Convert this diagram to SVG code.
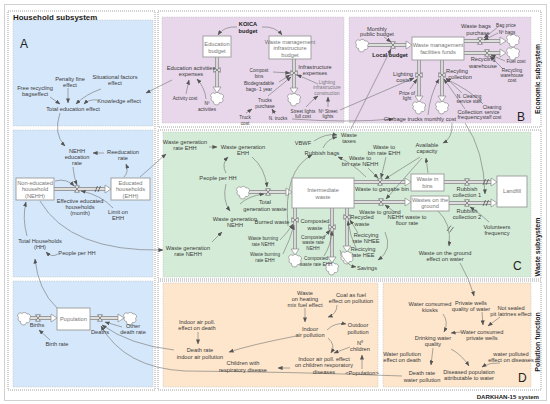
<svg xmlns="http://www.w3.org/2000/svg" width="550" height="404" viewBox="0 0 550 404">
<defs>
<style>
.t{font-family:"Liberation Sans",Arial,sans-serif;font-size:5.7px;fill:#3a3a3a;text-anchor:middle}
.s{font-size:4.7px}
.g{fill:#777}
.bd{font-weight:bold;fill:#222}
.ttl{font-family:"Liberation Sans",Arial,sans-serif;font-weight:bold;fill:#1a1a1a}
.pl{font-family:"Liberation Sans",Arial,sans-serif;font-size:12px;fill:#222}
.c{fill:none;stroke:#727272;stroke-width:0.6;marker-end:url(#ah)}
.po{fill:none;stroke:#9a9a9a;stroke-width:3.8}
.pi{fill:none;stroke:#dedede;stroke-width:1.8}
.ha{fill:#fff;stroke:#8a8a8a;stroke-width:0.7}
.stk{fill:#fff;stroke:#9a9a9a;stroke-width:0.9}
.sub{fill:none;stroke:#8c8c8c;stroke-width:0.8;stroke-dasharray:1 1}
.pan{stroke:#b4b4b4;stroke-width:0.5;stroke-dasharray:1.2 1.2}
.sl{stroke:#444;stroke-width:0.7;fill:none}
</style>
<marker id="ah" markerUnits="userSpaceOnUse" markerWidth="5" markerHeight="4" refX="4.6" refY="2" orient="auto"><path d="M0,0 L5,2 L0,4 z" fill="#555"/></marker>
<polygon id="v" points="-2.4,-3.2 2.4,-3.2 -2.4,3.2 2.4,3.2" fill="#fff" stroke="#444" stroke-width="0.6"/>
<polygon id="vv" points="-3.2,-2.4 -3.2,2.4 3.2,-2.4 3.2,2.4" fill="#fff" stroke="#444" stroke-width="0.6"/>
<polygon id="har" class="ha" points="-6,-4 0,0 -6,4"/>
<polygon id="had" class="ha" points="-4,-6 4,-6 0,0"/>
<path id="cl" d="M-3.5,3.5 A2.5,2.5 0 0 1 -5.5,-0.5 A2.6,2.6 0 0 1 -2,-4.5 A3,3 0 0 1 3,-4 A2.6,2.6 0 0 1 5.5,0.5 A2.6,2.6 0 0 1 2.5,4.5 A2.6,2.6 0 0 1 -3.5,3.5 Z" fill="#fff" stroke="#8a8a8a" stroke-width="0.7"/>
</defs>

<g id="frame">
<rect x="0" y="0" width="550" height="404" fill="#fff"/>
<rect class="sub" x="4.5" y="4.5" width="542" height="396"/>
<rect class="sub" x="8" y="11" width="147" height="379"/>
<rect class="sub" x="158" y="11" width="383" height="116"/>
<rect class="sub" x="158" y="130" width="383" height="149"/>
<rect class="sub" x="158" y="281" width="383" height="109"/>
<rect class="pan" x="13" y="20" width="140" height="106" fill="#d5e7fa"/>
<rect class="pan" x="13" y="130" width="140" height="147" fill="#d5e7fa"/>
<rect class="pan" x="13" y="281" width="140" height="106" fill="#d5e7fa"/>
<rect class="pan" x="162" y="17" width="182" height="106" fill="#e8d7eb"/>
<rect class="pan" x="349" y="17" width="182" height="106" fill="#e8d7eb"/>
<rect class="pan" x="163" y="132" width="368" height="145" fill="#d4ecd7"/>
<rect class="pan" x="163" y="283" width="215" height="104" fill="#fde6cc"/>
<rect class="pan" x="383" y="283" width="148" height="104" fill="#fde6cc"/>
<text class="ttl" x="13" y="19.5" font-size="7.9">Household subsystem</text>
<text class="ttl" font-size="6.8" text-anchor="middle" transform="translate(539.5,79) rotate(-90)">Economic subsystem</text>
<text class="ttl" font-size="7" text-anchor="middle" transform="translate(539.5,247) rotate(-90)">Waste subsystem</text>
<text class="ttl" font-size="7" text-anchor="middle" transform="translate(539.5,342) rotate(-90)">Pollution function</text>
<rect x="474" y="393" width="68" height="7" fill="#fff"/>
<text class="ttl" font-size="6.1" text-anchor="end" x="539" y="398.5">DARKHAN-15 system</text>
<text class="pl" x="20" y="48">A</text>
<text class="pl" x="517" y="121">B</text>
<text class="pl" x="513" y="270">C</text>
<text class="pl" x="518" y="382">D</text>
</g>

<g id="connectors">
<path class="po" d="M54,189 H105 M30,318 H51 M90,318 H118 M217,57 V87 M294,59 V88 M367,45 H406 M464,41 H500 M464,53 H500 M419,60 V96 M442,60 V96 M249,192 H286 M354,182 H405 M354,202 H405 M444,182 H491 M449,203 H491 M295,208 V249 M332,208 V257 M347,208 V246"/>
<path class="pi" d="M54,189 H105 M30,318 H51 M90,318 H118 M217,57 V87 M294,59 V88 M367,45 H406 M464,41 H500 M464,53 H500 M419,60 V96 M442,60 V96 M249,192 H286 M354,182 H405 M354,202 H405 M444,182 H491 M449,203 H491 M295,208 V249 M332,208 V257 M347,208 V246"/>
<use href="#har" x="111" y="189"/><use href="#har" x="57" y="318"/><use href="#har" x="124" y="318"/>
<use href="#had" x="217" y="93"/><use href="#had" x="294" y="94"/>
<use href="#har" x="412" y="45"/><use href="#har" x="506" y="41"/><use href="#har" x="506" y="53"/>
<use href="#had" x="419" y="102"/><use href="#had" x="442" y="102"/>
<use href="#har" x="292" y="192"/><use href="#har" x="411" y="182"/><use href="#har" x="411" y="202"/>
<use href="#har" x="497" y="182"/><use href="#har" x="497" y="203"/>
<use href="#had" x="295" y="255"/><use href="#had" x="332" y="263"/><use href="#had" x="347" y="252"/>
<path class="sl" d="M95,192 L97.5,186 M98,192 L100.5,186 M483,185 L485.5,179 M486,185 L488.5,179 M483,206 L485.5,200 M486,206 L488.5,200 M447,231 L451,225.5 M449.5,232.5 L453.5,227"/>
<use href="#v" x="77" y="189"/><use href="#v" x="38" y="318"/><use href="#v" x="100" y="318"/>
<use href="#vv" x="217" y="70"/><use href="#vv" x="294" y="73"/>
<use href="#v" x="393" y="45"/><use href="#v" x="480" y="41"/><use href="#v" x="487" y="53"/>
<use href="#vv" x="419" y="75"/><use href="#vv" x="442" y="75"/>
<use href="#v" x="268" y="192"/><use href="#v" x="380" y="182"/><use href="#v" x="381" y="202"/>
<use href="#v" x="467" y="182"/><use href="#v" x="467" y="203"/>
<use href="#vv" x="295" y="220"/><use href="#vv" x="332" y="227"/><use href="#vv" x="347" y="217"/>
<use href="#cl" x="24" y="318"/><use href="#cl" x="130" y="318"/>
<use href="#cl" x="217" y="98"/><use href="#cl" x="294" y="99"/>
<use href="#cl" x="362" y="45"/><use href="#cl" x="513" y="40"/><use href="#cl" x="513" y="53"/>
<use href="#cl" x="419" y="107"/><use href="#cl" x="442" y="107"/>
<use href="#cl" x="243" y="192"/><use href="#cl" x="295" y="260"/><use href="#cl" x="332" y="268"/><use href="#cl" x="347" y="257"/>
<path class="c" d="M50,97 L60,104"/>
<path class="c" d="M68,88 L68,103"/>
<path class="c" d="M101,89 Q86,94 76,104"/>
<path class="c" d="M97,100 Q89,99 84,104"/>
<path class="c" d="M60,113 Q53,134 65,146"/>
<path class="c" d="M104,153 L93,153"/>
<path class="c" d="M73,167 Q74,178 77,185"/>
<path class="c" d="M55,181 Q67,178 74,186"/>
<path class="c" d="M113,208 Q101,195 81,191"/>
<path class="c" d="M124,177 Q129,172 126,164"/>
<path class="c" d="M140,177 L166,154"/>
<path class="c" d="M40,201 Q70,252 163,250"/>
<path class="c" d="M58,254 Q52,258 46,252"/>
<path class="c" d="M27,236 Q22,218 26,202"/>
<path class="c" d="M57,308 Q38,290 35,259"/>
<path class="c" d="M50,340 L39,330"/>
<path class="c" d="M122,327 L105,322"/>
<path class="c" d="M174,350 Q130,345 102,325"/>
<path class="c" d="M402,376 Q300,372 185,371 Q125,368 101,326"/>
<path class="c" d="M237,27 Q224,26 218,35"/>
<path class="c" d="M262,27 Q275,26 282,35"/>
<path class="c" d="M186,94 L189,80"/>
<path class="c" d="M206,99 Q205,88 197,79"/>
<path class="c" d="M172,80 L146,93"/>
<path class="c" d="M273,72 L290,73"/>
<path class="c" d="M279,82 L290,75"/>
<path class="c" d="M268,96 L291,77"/>
<path class="c" d="M246,113 L252,109"/>
<path class="c" d="M275,114 L272,109"/>
<path class="c" d="M306,107 Q312,100 318,96"/>
<path class="c" d="M328,107 L328,97"/>
<path class="c" d="M318,84 Q305,78 297,75"/>
<path class="c" d="M292,119 Q350,123 393,119"/>
<path class="c" d="M340,110 L414,78"/>
<path class="c" d="M351,129 L391,49"/>
<path class="c" d="M384,37 L391,42"/>
<path class="c" d="M498,27 L484,38"/>
<path class="c" d="M498,33 L484,40"/>
<path class="c" d="M505,61 L491,55"/>
<path class="c" d="M503,69 L490,56"/>
<path class="c" d="M410,89 L417,79"/>
<path class="c" d="M462,93 L446,78"/>
<path class="c" d="M483,104 Q470,90 446,79"/>
<path class="c" d="M428,115 Q430,95 439,79"/>
<path class="c" d="M465,109 L444,79"/>
<path class="c" d="M465,123 Q484,150 485,194"/>
<path class="c" d="M452,123 Q453,138 443,143"/>
<path class="c" d="M209,147 L217,147"/>
<path class="c" d="M226,173 Q221,164 228,157"/>
<path class="c" d="M226,184 Q222,200 230,211"/>
<path class="c" d="M212,242 L222,232"/>
<path class="c" d="M252,157 Q265,168 267,187"/>
<path class="c" d="M240,204 Q248,196 264,194"/>
<path class="c" d="M314,141 Q326,133 337,135"/>
<path class="c" d="M323,148 Q327,139 337,137"/>
<path class="c" d="M288,226 Q283,170 312,155"/>
<path class="c" d="M368,168 L378,178"/>
<path class="c" d="M386,157 L381,178"/>
<path class="c" d="M420,157 L385,179"/>
<path class="c" d="M422,158 L386,199"/>
<path class="c" d="M396,213 L385,205"/>
<path class="c" d="M366,177 Q352,163 338,157"/>
<path class="c" d="M428,173 L426,158"/>
<path class="c" d="M489,222 Q478,212 470,207"/>
<path class="c" d="M438,211 Q452,224 449,246"/>
<path class="c" d="M460,263 Q470,280 474,296"/>
<path class="c" d="M280,240 Q288,232 293,224"/>
<path class="c" d="M283,254 Q290,240 294,225"/>
<path class="c" d="M322,240 L330,230"/>
<path class="c" d="M324,256 Q331,245 332,231"/>
<path class="c" d="M358,233 L350,220"/>
<path class="c" d="M356,248 Q350,236 348,221"/>
<path class="c" d="M340,250 Q344,265 356,267"/>
<path class="c" d="M385,232 Q393,250 378,260"/>
<path class="c" d="M305,308 L305,322"/>
<path class="c" d="M337,305 Q337,314 328,317"/>
<path class="c" d="M327,330 Q335,322 346,324"/>
<path class="c" d="M328,338 Q336,345 331,353"/>
<path class="c" d="M350,347 L334,353"/>
<path class="c" d="M362,369 L362,355"/>
<path class="c" d="M290,368 L278,368"/>
<path class="c" d="M296,336 Q250,345 229,352"/>
<path class="c" d="M198,332 L198,344"/>
<path class="c" d="M482,312 L483,325"/>
<path class="c" d="M500,317 L488,326"/>
<path class="c" d="M443,314 Q449,322 444,332"/>
<path class="c" d="M461,332 L451,333"/>
<path class="c" d="M433,348 L431,365"/>
<path class="c" d="M451,349 Q462,355 469,366"/>
<path class="c" d="M500,363 Q490,362 482,367"/>
</g>

<g id="free_recycling"><text class="t" x="35" y="90">Free recycling<tspan x="35" dy="6.3">bagseffect</tspan></text></g>
<g id="penalty_fine"><text class="t" x="70" y="81">Penalty fine<tspan x="70" dy="6.3">effect</tspan></text></g>
<g id="situational"><text class="t" x="115" y="79">Situational factors<tspan x="115" dy="6.3">effect</tspan></text></g>
<g id="knowledge"><text class="t" x="119" y="103">Knowledge effect</text></g>
<g id="total_education"><text class="t" x="73" y="111">Total education effect</text></g>
<g id="nehh_rate"><text class="t" x="77" y="153">NEHH<tspan x="77" dy="6.2">education</tspan><tspan x="77" dy="6.2">rate</tspan></text></g>
<g id="reeducation"><text class="t" x="123" y="154">Reeducation<tspan x="123" dy="6.3">rate</tspan></text></g>
<g id="nehh"><rect class="stk" x="16" y="178" width="38" height="22"/><text class="t g" x="35" y="185">Non-educated<tspan x="35" dy="6.4">household</tspan><tspan x="35" dy="6.4">(NEHH)</tspan></text></g>
<g id="ehh"><rect class="stk" x="111" y="178" width="39" height="22"/><text class="t g" x="130.5" y="185">Educated<tspan x="130.5" dy="6.4">households</tspan><tspan x="130.5" dy="6.4">(EHH)</tspan></text></g>
<g id="effective"><text class="t" x="80" y="203">Effective educated<tspan x="80" dy="6.2">households</tspan><tspan x="80" dy="6.2">(month)</tspan></text></g>
<g id="limit_ehh"><text class="t" x="118" y="214">Limit on<tspan x="118" dy="6.3">EHH</tspan></text></g>
<g id="total_hh"><text class="t" x="40" y="243">Total Households<tspan x="40" dy="6.3">(HH)</tspan></text></g>
<g id="people_hh1"><text class="t" x="77" y="255">People per HH</text></g>
<g id="births"><text class="t" x="37" y="327">Births</text></g>
<g id="population"><rect class="stk" x="57" y="308" width="33" height="22"/><text class="t g" x="73.5" y="321">Population</text></g>
<g id="deaths"><text class="t" x="100" y="334">Deaths</text></g>
<g id="other_death"><text class="t" x="133" y="328">Other<tspan x="133" dy="6.2">death rate</tspan></text></g>
<g id="birth_rate"><text class="t" x="57" y="346">Birth rate</text></g>

<g id="koica"><text class="t bd" x="248" y="26">KOICA<tspan x="248" dy="7">budget</tspan></text></g>
<g id="edu_budget"><rect class="stk" x="203" y="36" width="28" height="21"/><text class="t g" x="217" y="46">Education<tspan x="217" dy="6.5">budget</tspan></text></g>
<g id="wm_infra_budget"><rect class="stk" x="269" y="36" width="42" height="23"/><text class="t g" x="290" y="44">Waste management<tspan x="290" dy="6.3">infrastructure</tspan><tspan x="290" dy="6.3">budget</tspan></text></g>
<g id="edu_expenses"><text class="t" x="191" y="70">Education activities<tspan x="191" dy="6.3">expenses</tspan></text></g>
<g id="activity_cost"><text class="t s" x="185" y="100">Activity cost</text></g>
<g id="n_activities"><text class="t s" x="207" y="105">Nº<tspan x="207" dy="5.6">activities</tspan></text></g>
<g id="infra_expenses"><text class="t" x="315" y="69">Infrastructure<tspan x="315" dy="6.3">expenses</tspan></text></g>
<g id="compost_bins"><text class="t s" x="259" y="72">Compost<tspan x="259" dy="5.6">bins</tspan></text></g>
<g id="biodegradable"><text class="t s" x="259" y="85">Biodegradable<tspan x="259" dy="5.6">bags- 1 year</tspan></text></g>
<g id="trucks_purchase"><text class="t s" x="265" y="102">Trucks<tspan x="265" dy="5.6">purchase</tspan></text></g>
<g id="truck_cost"><text class="t s" x="245" y="119">Truck<tspan x="245" dy="5.6">cost</tspan></text></g>
<g id="n_trucks"><text class="t s" x="278" y="120">N. trucks</text></g>
<g id="street_lights_cost"><text class="t s" x="303" y="113">Street lights<tspan x="303" dy="5.4">full cost</tspan></text></g>
<g id="n_street_lights"><text class="t s" x="328" y="113">Nº Street<tspan x="328" dy="5.4">lights</tspan></text></g>
<g id="lighting_infra"><text class="t s g" x="327" y="84">Lighting<tspan x="327" dy="5.4">infrastructure</tspan><tspan x="327" dy="5.4">construction</tspan></text></g>
<g id="monthly_budget"><text class="t" font-size="4.3" x="377" y="31">Monthly<tspan x="377" dy="5">public budget</tspan></text></g>
<g id="local_budget"><text class="t bd" x="390" y="57">Local budget</text></g>
<g id="wm_funds"><rect class="stk" x="412" y="37" width="52" height="23"/><text class="t g" x="438" y="47">Waste management<tspan x="438" dy="7">facilities funds</tspan></text></g>
<g id="bags_purchase"><text class="t" x="476" y="28">Waste bags<tspan x="478" dy="6.5">purchase</tspan></text></g>
<g id="bag_price"><text class="t s" x="506" y="27">Bag price</text></g>
<g id="n_bags"><text class="t s" x="507" y="34">Nº bags</text></g>
<g id="recycling_warehouse"><text class="t" x="483" y="61">Recycling<tspan x="483" dy="6.5">warehouse</tspan></text></g>
<g id="fuel_cost"><text class="t s" x="516" y="63">Fuel cost</text></g>
<g id="warehouse_cost"><text class="t s" x="512" y="72">Recycling<tspan x="512" dy="5">warehouse</tspan><tspan x="512" dy="5">cost</tspan></text></g>
<g id="lighting_costs"><text class="t" x="403" y="76">Lighting<tspan x="403" dy="6.3">costs</tspan></text></g>
<g id="recycling_collection"><text class="t" x="457" y="73">Recyling<tspan x="460" dy="6.3">collection</tspan></text></g>
<g id="price_light"><text class="t s" x="407" y="95">Price of<tspan x="407" dy="5.2">light</tspan></text></g>
<g id="n_cleaning"><text class="t s" x="469" y="98">N. Cleaning<tspan x="469" dy="5.2">service staff</tspan></text></g>
<g id="cleaning_cost"><text class="t s" x="492" y="109">Cleaning<tspan x="492" dy="5.2">service</tspan><tspan x="492" dy="5.2">staff cost</tspan></text></g>
<g id="garbage_trucks"><text class="t" font-size="4.1" x="420" y="121">Garbage trucks monthly cost</text></g>
<g id="collection_freq"><text class="t" font-size="4.4" x="470" y="113.5">Collection<tspan x="470" dy="5.6">frequency</tspan></text></g>

<g id="wg_rate_ehh"><text class="t" x="185" y="144">Waste generation<tspan x="185" dy="6.3">rate EHH</tspan></text></g>
<g id="wg_ehh"><text class="t" x="243" y="149">Waste generation<tspan x="243" dy="6.3">EHH</tspan></text></g>
<g id="people_hh2"><text class="t" x="218" y="180">People per HH</text></g>
<g id="wg_nehh"><text class="t" x="235" y="221">Waste generation<tspan x="235" dy="6.3">NEHH</tspan></text></g>
<g id="wg_rate_nehh"><text class="t" x="188" y="250">Waste generation<tspan x="188" dy="6.3">rate NEHH</tspan></text></g>
<g id="vbwf"><text class="t" x="303" y="145">VBWF</text></g>
<g id="rubbish_bags"><text class="t" x="322" y="155">Rubbish bags</text></g>
<g id="waste_taxes"><text class="t" x="349" y="137">Waste<tspan x="349" dy="6.3">taxes</tspan></text></g>
<g id="total_gen"><text class="t" x="265" y="204">Total<tspan x="265" dy="6.5">generation waste</tspan></text></g>
<g id="intermediate"><rect class="stk" x="292" y="178" width="62" height="30"/><text class="t g" x="323" y="192">Intermediate<tspan x="323" dy="6.5">waste</tspan></text></g>
<g id="to_bin_nehh"><text class="t" x="360" y="160">Waste to<tspan x="360" dy="6.2">bin rate NEHH</tspan></text></g>
<g id="to_bin_ehh"><text class="t" x="384" y="149">Waste to<tspan x="384" dy="6.2">bin rate EHH</tspan></text></g>
<g id="to_garbage_bin"><text class="t" x="382" y="191">Waste to gargabe bin</text></g>
<g id="to_ground"><text class="t" x="380" y="214">Waste to ground</text></g>
<g id="floor_rate"><text class="t" x="407" y="219">NEHH waste to<tspan x="407" dy="6.2">floor rate</tspan></text></g>
<g id="available"><text class="t" x="427" y="147">Available<tspan x="427" dy="6.3">capacity</tspan></text></g>
<g id="waste_bins"><rect class="stk" x="411" y="174" width="33" height="17"/><text class="t g" x="427.5" y="181">Waste in<tspan x="427.5" dy="6.5">bins</tspan></text></g>
<g id="waste_ground"><rect class="stk" x="411" y="196" width="38" height="15"/><text class="t g" x="430" y="202">Wastes on the<tspan x="430" dy="6.3">ground</tspan></text></g>
<g id="landfill"><rect class="stk" x="497" y="176" width="30" height="31"/><text class="t g" x="512" y="193">Landfill</text></g>
<g id="rubbish1"><text class="t" x="467" y="191">Rubbish<tspan x="467" dy="6.2">collection 1</tspan></text></g>
<g id="rubbish2"><text class="t" x="467" y="213">Rubbish<tspan x="467" dy="6.2">collection 2</tspan></text></g>
<g id="volunteers"><text class="t" x="497" y="229">Volunteers<tspan x="497" dy="6.3">frequency</tspan></text></g>
<g id="ground_effect"><text class="t" x="445" y="255">Waste on the ground<tspan x="445" dy="6.3">effect on water</tspan></text></g>
<g id="burned"><text class="t" x="272" y="224">Burned waste</text></g>
<g id="burn_nehh"><text class="t s" x="263" y="240">Waste burning<tspan x="263" dy="5.6">rate NEHH</tspan></text></g>
<g id="burn_ehh"><text class="t s" x="265" y="256">Waste burning<tspan x="265" dy="5.6">rate EHH</tspan></text></g>
<g id="composted"><text class="t" x="315" y="223">Composted<tspan x="315" dy="6.5">waste</tspan></text></g>
<g id="comp_nehh"><text class="t s" x="313" y="239">Composted<tspan x="313" dy="5.4">waste rate</tspan><tspan x="313" dy="5.4">NEHH</tspan></text></g>
<g id="comp_ehh"><text class="t s" x="316" y="260">Composted<tspan x="316" dy="6">waste rate EHH</tspan></text></g>
<g id="recycled"><text class="t" x="362" y="219">Recycled<tspan x="362" dy="6.5">waste</tspan></text></g>
<g id="rec_nhee"><text class="t" x="366" y="237">Recicying<tspan x="366" dy="6.2">rate NHEE</tspan></text></g>
<g id="rec_hee"><text class="t" x="363" y="251">Recicying<tspan x="363" dy="6.2">rate HEE</tspan></text></g>
<g id="savings"><text class="t" x="367" y="270">Savings</text></g>

<g id="waste_heating"><text class="t" x="305" y="295">Waste<tspan x="305" dy="6.2">on heating</tspan><tspan x="305" dy="6.2">mix fuel effect</tspan></text></g>
<g id="coal"><text class="t" x="351" y="297">Coal as fuel<tspan x="351" dy="6.3">effect on pollution</tspan></text></g>
<g id="indoor"><text class="t" x="310" y="331">Indoor<tspan x="310" dy="6.3">air pollution</tspan></text></g>
<g id="outdoor"><text class="t" x="358" y="327">Outdoor<tspan x="358" dy="6.5">pollution</tspan></text></g>
<g id="n_children"><text class="t" x="360" y="345">Nº<tspan x="360" dy="6.3">children</tspan></text></g>
<g id="pop_ghost"><text class="t" font-size="3.9" x="362" y="375">&lt;Population&gt;</text></g>
<g id="indoor_children"><text class="t" x="324" y="361">Indoor air poll. effect<tspan x="324" dy="6.3">on children resporatory</tspan><tspan x="324" dy="6.3">diseases</tspan></text></g>
<g id="children_resp"><text class="t" x="243" y="365">Children with<tspan x="243" dy="6.5">respiratory disease</tspan></text></g>
<g id="indoor_death_eff"><text class="t" x="197" y="324">Indoor air poll.<tspan x="197" dy="6.3">effect on death</tspan></text></g>
<g id="death_indoor"><text class="t" x="200" y="352">Death rate<tspan x="200" dy="6.5">indoor air pollution</tspan></text></g>
<g id="private_wells_q"><text class="t" x="471" y="305">Private wells<tspan x="471" dy="6.3">quality of water</tspan></text></g>
<g id="kiosks"><text class="t" x="430" y="306">Water consumed<tspan x="430" dy="6.3">kiosks</tspan></text></g>
<g id="pit_latrines"><text class="t" x="511" y="310">Not sealed<tspan x="511" dy="6.3">pit latrines effect</tspan></text></g>
<g id="consumed_wells"><text class="t" x="482" y="334">Water consumed<tspan x="482" dy="6.3">private wells</tspan></text></g>
<g id="drinking"><text class="t" x="433" y="340">Drinking water<tspan x="433" dy="6.3">quality</tspan></text></g>
<g id="water_death_eff"><text class="t" x="402" y="356">Water pollution<tspan x="402" dy="6.3">effect on death</tspan></text></g>
<g id="water_disease_eff"><text class="t" x="511" y="356">water polluted<tspan x="511" dy="6.3">effect on diseases</tspan></text></g>
<g id="death_water"><text class="t" x="422" y="375">Death rate<tspan x="422" dy="6.8">water pollution</tspan></text></g>
<g id="diseased"><text class="t" x="469" y="374">Diseased population<tspan x="469" dy="6.3">attributable to water</tspan></text></g>
</svg>
